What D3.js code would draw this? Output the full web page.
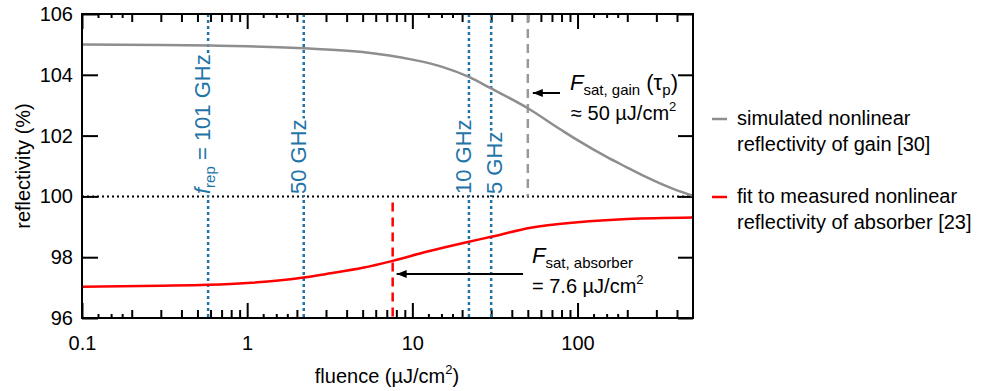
<!DOCTYPE html>
<html>
<head>
<meta charset="utf-8">
<script src="https://cdn.jsdelivr.net/npm/d3@7"></script>
<style>
  body { margin: 0; background: #fff; }
  svg { font-family: "Liberation Sans", Arial, Helvetica, sans-serif; }
</style>
</head>
<body>
<div id="chart"></div>
<script>
// values
var gainFluence = [0.1, 0.3, 0.6, 1, 2.2, 5, 10, 15, 22, 30, 50, 79, 100, 150, 200, 250, 318, 400, 500];
var gainRefl    = [105.0, 104.98, 104.96, 104.94, 104.87, 104.75, 104.5, 104.27, 103.93, 103.55, 102.9, 102.2, 101.85, 101.3, 100.95, 100.68, 100.42, 100.2, 100.02];
var absFluence  = [0.1, 0.3, 0.58, 1, 2.2, 3.2, 5, 7.6, 12, 22, 30, 52, 100, 200, 500];
var absRefl     = [97.03, 97.06, 97.09, 97.15, 97.33, 97.47, 97.65, 97.88, 98.17, 98.51, 98.67, 98.97, 99.15, 99.26, 99.31];
var repFluence  = [0.58, 2.2, 22, 30];
var repLabels   = ["rep", "50 GHz", "10 GHz", "5 GHz"];
var fSatGain = 50, fSatAbs = 7.6, unityLevel = 100;
var xMajor = [0.1, 1, 10, 100];
var xMajorLabels = ["0.1", "1", "10", "100"];
var yTicks = [96, 98, 100, 102, 104, 106];
var legendLabels = [["simulated nonlinear", "reflectivity of gain [30]"],
                    ["fit to measured nonlinear", "reflectivity of absorber [23]"]];

var W = 992, H = 391;
// plot box (window.top is taken, so p-prefixed names)
var pLeft = 82, pRight = 693, pTop = 14, pBottom = 318;
var grey = "#8e8e8e", red = "#ff0000", blue = "#1f74a8";

var svg = d3.select("#chart").append("svg")
  .attr("width", W).attr("height", H);

var x = d3.scaleLog().domain([0.1, 500]).range([pLeft, pRight]);
var y = d3.scaleLinear().domain([96, 106]).range([pBottom, pTop]);

// minor log ticks
var minorSmall = [], minorMid = [];
[0.1, 1, 10, 100].forEach(function(d) {
  [1.25, 1.5, 1.75].forEach(function(m) { if (d * m < 500) minorSmall.push(d * m); });
  [2, 3, 4, 5, 6, 7, 8, 9].forEach(function(m) { if (d * m < 500) minorMid.push(d * m); });
});

function axisGroup(axis, tx, ty) {
  var g = svg.append("g").attr("transform", "translate(" + tx + "," + ty + ")").call(axis);
  g.select(".domain").remove();
  g.selectAll("line").attr("stroke", "#000").attr("stroke-width", 2);
  g.selectAll("text").attr("font-size", 20).attr("fill", "#000")
    .attr("font-family", "Liberation Sans, Arial, sans-serif");
  return g;
}

// bottom
axisGroup(d3.axisBottom(x).tickValues(xMajor).tickSize(-15).tickPadding(18)
  .tickFormat(function(d, i) { return xMajorLabels[i]; }), 0, pBottom);
axisGroup(d3.axisBottom(x).tickValues(minorMid).tickSize(-8).tickFormat(""), 0, pBottom);
axisGroup(d3.axisBottom(x).tickValues(minorSmall).tickSize(-4).tickFormat(""), 0, pBottom);
// top
axisGroup(d3.axisTop(x).tickValues(xMajor).tickSize(-15).tickFormat(""), 0, pTop);
axisGroup(d3.axisTop(x).tickValues(minorMid).tickSize(-8).tickFormat(""), 0, pTop);
axisGroup(d3.axisTop(x).tickValues(minorSmall).tickSize(-4).tickFormat(""), 0, pTop);
// left / right
axisGroup(d3.axisLeft(y).tickValues(yTicks).tickSize(-16).tickPadding(9).tickFormat(d3.format("d")), pLeft, 0);
axisGroup(d3.axisRight(y).tickValues(yTicks).tickSize(-15).tickFormat(""), pRight, 0);

// 100 % line
svg.append("line")
  .attr("x1", pLeft).attr("x2", pRight)
  .attr("y1", y(unityLevel)).attr("y2", y(unityLevel))
  .attr("stroke", "#000").attr("stroke-width", 2).attr("stroke-dasharray", "2,3");

// repetition rate lines
repFluence.forEach(function(f) {
  svg.append("line")
    .attr("x1", x(f)).attr("x2", x(f))
    .attr("y1", pTop).attr("y2", pBottom)
    .attr("stroke", blue).attr("stroke-width", 2.5).attr("stroke-dasharray", "3,3");
});

// saturation fluence markers
svg.append("line")
  .attr("x1", x(fSatGain)).attr("x2", x(fSatGain))
  .attr("y1", pTop).attr("y2", y(unityLevel))
  .attr("stroke", "#999").attr("stroke-width", 2.5).attr("stroke-dasharray", "9,6");
svg.append("line")
  .attr("x1", x(fSatAbs)).attr("x2", x(fSatAbs))
  .attr("y1", y(99.8)).attr("y2", pBottom)
  .attr("stroke", red).attr("stroke-width", 2.5).attr("stroke-dasharray", "9,6");

// rotated labels for the rep rates, with white backing
repLabels.forEach(function(lab, i) {
  var off = (i == 3) ? 11 : 2;
  var g = svg.append("g")
    .attr("transform", "translate(" + (x(repFluence[i]) + off) + ",194) rotate(-90)");
  var t = g.append("text").attr("fill", blue).attr("font-size", 22);
  if (i == 0) {
    t.append("tspan").attr("font-style", "italic").text("f");
    t.append("tspan").attr("font-size", 15).attr("dy", 5).text("rep");
    t.append("tspan").attr("dy", -5).text(" = 101 GHz");
  } else {
    t.text(lab);
  }
  var bb = t.node().getBBox();
  g.insert("rect", "text")
    .attr("x", bb.x - 1).attr("y", bb.y + 3)
    .attr("width", bb.width + 2).attr("height", bb.height - 3)
    .attr("fill", "#fff");
});

// curves
var line = d3.line()
  .x(function(d) { return x(d[0]); })
  .y(function(d) { return y(d[1]); })
  .curve(d3.curveMonotoneX);

svg.append("path")
  .datum(d3.zip(gainFluence, gainRefl))
  .attr("d", line)
  .attr("fill", "none").attr("stroke", grey).attr("stroke-width", 2.5);

svg.append("path")
  .datum(d3.zip(absFluence, absRefl))
  .attr("d", line)
  .attr("fill", "none").attr("stroke", red).attr("stroke-width", 2.5);

// frame
svg.append("rect")
  .attr("x", pLeft).attr("y", pTop)
  .attr("width", pRight - pLeft).attr("height", pBottom - pTop)
  .attr("fill", "none").attr("stroke", "#000").attr("stroke-width", 2);

// arrows
svg.append("defs").append("marker")
  .attr("id", "head").attr("viewBox", "0 0 10 10")
  .attr("refX", 10).attr("refY", 5)
  .attr("markerWidth", 6).attr("markerHeight", 5)
  .attr("markerUnits", "strokeWidth")
  .attr("orient", "auto")
  .append("path").attr("d", "M0,1 L10,5 L0,9 Z").attr("fill", "#000");

svg.append("line")
  .attr("x1", 560).attr("x2", x(fSatGain) + 5)
  .attr("y1", 93).attr("y2", 93)
  .attr("stroke", "#000").attr("stroke-width", 2).attr("marker-end", "url(#head)");
svg.append("line")
  .attr("x1", 523).attr("x2", x(fSatAbs) + 4)
  .attr("y1", 274).attr("y2", 274)
  .attr("stroke", "#000").attr("stroke-width", 2).attr("marker-end", "url(#head)");

// annotation texts
var a1 = svg.append("text").attr("x", 570).attr("y", 90).attr("font-size", 22);
a1.append("tspan").attr("font-style", "italic").text("F");
a1.append("tspan").attr("font-size", 15).attr("dy", 5).text("sat, gain");
a1.append("tspan").attr("dy", -5).text(" (τ");
a1.append("tspan").attr("font-size", 15).attr("dy", 5).text("p");
a1.append("tspan").attr("dy", -5).text(")");

var a2 = svg.append("text").attr("x", 571).attr("y", 120).attr("font-size", 20);
a2.append("tspan").text("≈ 50 µJ/cm");
a2.append("tspan").attr("font-size", 13).attr("dy", -9).text("2");

var a3 = svg.append("text").attr("x", 532).attr("y", 263).attr("font-size", 22);
a3.append("tspan").attr("font-style", "italic").text("F");
a3.append("tspan").attr("font-size", 15).attr("dy", 5).text("sat, absorber");

var a4 = svg.append("text").attr("x", 532).attr("y", 293).attr("font-size", 20);
a4.append("tspan").text("= 7.6 µJ/cm");
a4.append("tspan").attr("font-size", 13).attr("dy", -9).text("2");

// axis titles
svg.append("text")
  .attr("transform", "translate(30,166) rotate(-90)")
  .attr("text-anchor", "middle").attr("font-size", 20)
  .text("reflectivity (%)");

var xt = svg.append("text")
  .attr("x", 387).attr("y", 383)
  .attr("text-anchor", "middle").attr("font-size", 20);
xt.append("tspan").text("fluence (µJ/cm");
xt.append("tspan").attr("font-size", 13).attr("dy", -9).text("2");
xt.append("tspan").attr("dy", 9).text(")");

// legend
var legendColors = [grey, red];
var legendY = [119, 197];
legendLabels.forEach(function(lines, i) {
  svg.append("line")
    .attr("x1", 712).attr("x2", 727)
    .attr("y1", legendY[i]).attr("y2", legendY[i])
    .attr("stroke", legendColors[i]).attr("stroke-width", 2.5);
  lines.forEach(function(s, j) {
    svg.append("text")
      .attr("x", 737).attr("y", legendY[i] + 6 + j * 25.5)
      .attr("font-size", 20)
      .text(s);
  });
});
</script>
</body>
</html>
